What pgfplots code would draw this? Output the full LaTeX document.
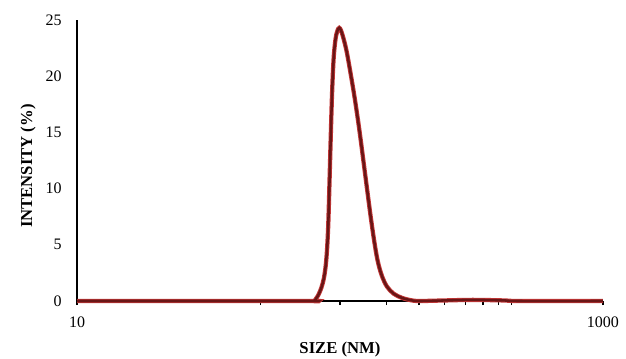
\documentclass[border=0pt]{standalone}
\usepackage{fontspec}
\setmainfont{Liberation Serif}
\usepackage{pgfplots}
\pgfplotsset{compat=1.18}
\definecolor{curveout}{RGB}{195,55,55}
\definecolor{curvein}{RGB}{105,22,22}
\pgfplotsset{psd/.style={smooth, tension=0.55}}
\begin{document}
\begin{tikzpicture}
\path[use as bounding box] (-57.75pt,-42.75pt) rectangle (411.75pt,225.75pt);
\begin{axis}[at={(0pt,0pt)}, anchor=south west, scale only axis,
  width=394.5pt, height=210.75pt,
  xmode=log, xmin=10, xmax=1000, ymin=0, ymax=25,
  axis x line=bottom, axis y line=left,
  x axis line style={-, line width=2pt, black},
  y axis line style={-, line width=1.5pt, black},
  xtick={10,1000}, xticklabels={10,1000},
  minor xtick={50,100,150,200,250,300,350,400,450},
  ytick={0,5,10,15,20,25},
  tick align=outside, major tick length=3pt, minor tick length=3pt,
  x tick style={black, line width=1pt},
  y tick style={draw=none},
  ticklabel style={font=\fontsize{12}{14}\selectfont},
  /pgf/number format/assume math mode=true,
  xticklabel style={anchor=north, yshift=-5pt},
  yticklabel style={anchor=east, xshift=-5pt},
  xlabel={\textbf{SIZE (NM)}}, ylabel={\textbf{INTENSITY (\%)}},
  label style={font=\fontsize{12.5}{14}\selectfont},
  xlabel style={at={(axis description cs:0.5,0)}, anchor=center, yshift=-36.5pt},
  ylabel style={at={(axis description cs:-0.093,0.48)}, anchor=center},
  clip=false,
]
\pgfplotstableread{
x y
10 0
70 0
79.1 0
81 0.2
83 0.6
85 1.2
86.8 2.0
88.3 3.2
89.4 4.8
90.3 7.0
91.2 10.5
92.2 14.5
93.3 18.5
94.6 21.6
96.3 23.4
98.3 24.2
99.4 24.3
100.8 24.1
103 23.4
106 22.2
110 20.1
114 17.9
118.5 15.2
122.7 12.5
127 9.8
131 7.4
135 5.3
139 3.6
144 2.3
150.7 1.3
160 0.65
172 0.28
185 0.08
200 0
250 0.05
320 0.1
420 0.05
480 0
1000 0
}\psdtable
\addplot[curveout, line width=3.2pt, psd] table[x=x,y=y] {\psdtable};
\addplot[curvein, line width=1.9pt, psd] table[x=x,y=y] {\psdtable};
\end{axis}
\end{tikzpicture}
\end{document}
